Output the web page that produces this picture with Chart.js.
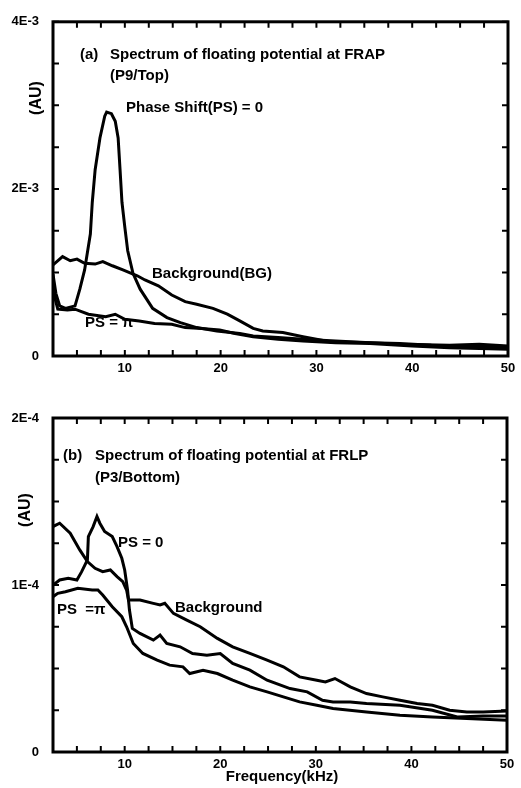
<!DOCTYPE html>
<html>
<head>
<meta charset="utf-8">
<script src="https://cdn.jsdelivr.net/npm/chart.js@4.4.1/dist/chart.umd.min.js"></script>
<style>
  body { margin: 0; background: #fff; }
  #wrap { position: relative; width: 521px; height: 788px; }
  .box { position: absolute; left: 0; width: 521px; }
</style>
</head>
<body>
<div id="wrap">
  <div class="box" style="top:0;height:385px"><canvas id="topChart"></canvas></div>
  <div class="box" style="top:385px;height:403px"><canvas id="bottomChart"></canvas></div>
</div>
<script>
// panel (a): values in units of 1E-3
const topUnit = 1e-3;
const topFreqPS0 = [2.5, 2.8, 3.2, 3.8, 4.8, 5.3, 5.8, 6.4, 6.6, 6.9, 7.4, 7.9, 8.1, 8.6, 9.0, 9.3, 9.5, 9.7, 10.0, 10.3,
  10.85, 11.6, 12.9, 14.4, 15.8, 17.5, 19.6, 22.0, 23.4, 26.0, 28.6, 32.0, 35.6, 38.7, 42.0, 45.0, 48.0, 50.0];
const topPS0 = [0.98, 0.75, 0.60, 0.57, 0.60, 0.80, 1.03, 1.46, 1.84, 2.23, 2.61, 2.87, 2.92, 2.90, 2.81, 2.61, 2.23, 1.84, 1.54, 1.26,
  0.99, 0.80, 0.57, 0.46, 0.40, 0.34, 0.30, 0.27, 0.24, 0.22, 0.20, 0.18, 0.16, 0.15, 0.13, 0.12, 0.11, 0.10];
const topFreqBG = [2.5, 3.5, 4.3, 5.0, 5.8, 6.9, 7.7, 8.7, 9.8, 11.3, 12.1, 13.5, 14.9, 16.3, 17.5, 19.2, 20.7, 22.0, 23.4, 24.4,
  26.5, 28.6, 31.4, 35.6, 38.7, 43.9, 47.0, 50.0];
const topBG = [1.09, 1.19, 1.14, 1.16, 1.11, 1.10, 1.13, 1.08, 1.03, 0.96, 0.91, 0.84, 0.73, 0.65, 0.62, 0.57, 0.50, 0.42, 0.33, 0.30,
  0.28, 0.23, 0.17, 0.16, 0.14, 0.13, 0.14, 0.12];
const topFreqPSpi = [2.5, 3.0, 4.0, 4.8, 6.2, 8.0, 9.0, 10.0, 11.5, 13.1, 14.9, 16.3, 18.0, 19.9, 21.5, 23.4, 26.0, 28.6, 32.0, 35.6,
  40.0, 43.9, 47.0, 50.0];
const topPSpi = [0.78, 0.56, 0.55, 0.56, 0.50, 0.47, 0.50, 0.44, 0.42, 0.39, 0.38, 0.34, 0.33, 0.31, 0.27, 0.23, 0.20, 0.18, 0.16, 0.15,
  0.12, 0.10, 0.09, 0.08];

// panel (b): values in units of 1E-4
const botUnit = 1e-4;
const botFreqBG = [2.5, 3.2, 4.3, 5.3, 6.1, 6.9, 7.7, 8.5, 9.2, 9.8, 10.2, 10.4, 11.6, 13.0, 13.7, 14.2, 15.1, 16.5, 17.9, 19.7,
  21.3, 23.1, 24.9, 26.6, 28.3, 30.1, 31.0, 32.0, 33.6, 35.3, 37.0, 38.8, 40.6, 42.2, 44.0, 45.8, 47.5, 50.0];
const botBG = [1.35, 1.37, 1.31, 1.21, 1.14, 1.10, 1.08, 1.09, 1.05, 1.02, 0.97, 0.91, 0.91, 0.89, 0.88, 0.89, 0.83, 0.79, 0.75, 0.68,
  0.63, 0.59, 0.55, 0.51, 0.45, 0.43, 0.42, 0.44, 0.39, 0.35, 0.33, 0.31, 0.29, 0.28, 0.25, 0.24, 0.24, 0.245];
const botFreqPS0 = [2.5, 3.2, 4.1, 5.0, 5.5, 6.1, 6.2, 6.7, 7.1, 7.4, 7.9, 8.7, 9.2, 9.7, 10.0, 10.3, 10.5, 10.8, 11.6, 13.0,
  13.7, 14.4, 15.8, 17.1, 18.6, 20.0, 21.3, 23.1, 24.9, 27.3, 29.1, 30.7, 31.8, 33.6, 35.3, 38.8, 42.2, 44.8, 47.5, 50.0];
const botPS0 = [1.00, 1.03, 1.04, 1.03, 1.08, 1.15, 1.29, 1.35, 1.41, 1.37, 1.32, 1.29, 1.23, 1.16, 1.09, 0.97, 0.85, 0.74, 0.71, 0.67,
  0.70, 0.65, 0.63, 0.59, 0.58, 0.59, 0.53, 0.49, 0.43, 0.38, 0.36, 0.31, 0.30, 0.30, 0.29, 0.28, 0.25, 0.21, 0.215, 0.215];
const botFreqPSpi = [2.5, 3.0, 3.8, 5.1, 6.6, 7.2, 7.7, 8.7, 9.7, 10.2, 10.9, 11.9, 13.4, 14.7, 16.1, 16.8, 18.2, 19.7, 21.3, 23.1,
  24.9, 26.6, 28.3, 30.1, 31.8, 35.3, 38.8, 42.2, 45.8, 50.0];
const botPSpi = [0.93, 0.95, 0.96, 0.98, 0.97, 0.97, 0.94, 0.87, 0.81, 0.75, 0.65, 0.59, 0.55, 0.52, 0.51, 0.47, 0.49, 0.47, 0.43, 0.39,
  0.36, 0.33, 0.30, 0.28, 0.26, 0.24, 0.22, 0.21, 0.20, 0.19];

// tick labels
const xTickValues = [10, 20, 30, 40, 50];
const xTickLabels = ['10', '20', '30', '40', '50'];
const topYTickValues = [0, 2e-3, 4e-3];
const topYTickLabels = ['0', '2E-3', '4E-3'];
const botYTickValues = [0, 1e-4, 2e-4];
const botYTickLabels = ['0', '1E-4', '2E-4'];

const FONT = '"Liberation Sans", Arial, sans-serif';

function toPoints(freqs, vals, unit) {
  return freqs.map((f, i) => ({ x: f, y: vals[i] * unit }));
}

function pickLabel(values, labels, tol) {
  return v => {
    const i = values.findIndex(t => Math.abs(t - v) < tol);
    return i >= 0 ? labels[i] : '';
  };
}

// frame with inward ticks on all four sides
const framePlugin = {
  id: 'frame',
  afterDatasetsDraw(chart) {
    const { ctx, chartArea: a } = chart;
    const x = chart.scales.x, y = chart.scales.y;
    ctx.save();
    ctx.strokeStyle = '#000';
    ctx.lineWidth = 2;
    ctx.beginPath();
    x.ticks.forEach(t => {
      const px = x.getPixelForValue(t.value);
      ctx.moveTo(px, a.bottom); ctx.lineTo(px, a.bottom - 6);
      ctx.moveTo(px, a.top); ctx.lineTo(px, a.top + 6);
    });
    y.ticks.forEach(t => {
      const py = y.getPixelForValue(t.value);
      ctx.moveTo(a.left, py); ctx.lineTo(a.left + 6, py);
      ctx.moveTo(a.right, py); ctx.lineTo(a.right - 6, py);
    });
    ctx.stroke();
    ctx.lineWidth = 3;
    ctx.strokeRect(a.left, a.top, a.right - a.left, a.bottom - a.top);
    ctx.restore();
  }
};

function notesPlugin(notes) {
  return {
    id: 'notes',
    afterDraw(chart) {
      const ctx = chart.ctx;
      ctx.save();
      ctx.fillStyle = '#000';
      ctx.textBaseline = 'middle';
      notes.forEach(n => {
        ctx.font = 'bold ' + (n.size || 15) + 'px ' + FONT;
        ctx.save();
        ctx.translate(n.x, n.y);
        if (n.rotate) ctx.rotate(n.rotate);
        ctx.textAlign = n.align || 'left';
        ctx.fillText(n.text, 0, 0);
        ctx.restore();
      });
      ctx.restore();
    }
  };
}

function lineSet(data) {
  return {
    data: data,
    borderColor: '#000',
    borderWidth: 3,
    pointRadius: 0,
    tension: 0,
    fill: false
  };
}

function makeChart(id, datasets, yMax, yStep, yVals, yLabels, pad, xHeight, notes) {
  return new Chart(document.getElementById(id), {
    type: 'line',
    data: { datasets: datasets },
    options: {
      responsive: true,
      maintainAspectRatio: false,
      animation: false,
      layout: { padding: pad },
      plugins: { legend: { display: false }, tooltip: { enabled: false } },
      scales: {
        x: {
          type: 'linear',
          min: 2.5,
          max: 50,
          grid: { display: false, drawTicks: false },
          border: { display: false },
          ticks: {
            stepSize: 2.5,
            autoSkip: false,
            maxRotation: 0,
            padding: 5,
            color: '#000',
            font: { family: FONT, size: 13, weight: 'bold' },
            callback: pickLabel(xTickValues, xTickLabels, 1e-6)
          },
          afterFit: s => { s.height = xHeight; }
        },
        y: {
          min: 0,
          max: yMax,
          grid: { display: false, drawTicks: false },
          border: { display: false },
          ticks: {
            stepSize: yStep,
            autoSkip: false,
            padding: 14,
            color: '#000',
            font: { family: FONT, size: 13, weight: 'bold' },
            callback: pickLabel(yVals, yLabels, yStep / 100)
          },
          afterFit: s => { s.width = 53; }
        }
      }
    },
    plugins: [framePlugin, notesPlugin(notes)]
  });
}

makeChart('topChart', [
  lineSet(toPoints(topFreqBG, topBG, topUnit)),
  lineSet(toPoints(topFreqPSpi, topPSpi, topUnit)),
  lineSet(toPoints(topFreqPS0, topPS0, topUnit))
], 4e-3, 0.5e-3, topYTickValues, topYTickLabels,
  { left: 0, right: 13, top: 10, bottom: 0 }, 29, [
  { text: '(a)', x: 80, y: 55 },
  { text: 'Spectrum of floating potential at FRAP', x: 110, y: 55 },
  { text: '(P9/Top)', x: 110, y: 76 },
  { text: 'Phase Shift(PS) = 0', x: 126, y: 108 },
  { text: 'Background(BG)', x: 152, y: 274 },
  { text: 'PS = \u03c0', x: 85, y: 323 },
  { text: '(AU)', x: 37, y: 98, size: 16, align: 'center', rotate: -Math.PI / 2 }
]);

makeChart('bottomChart', [
  lineSet(toPoints(botFreqBG, botBG, botUnit)),
  lineSet(toPoints(botFreqPS0, botPS0, botUnit)),
  lineSet(toPoints(botFreqPSpi, botPSpi, botUnit))
], 2e-4, 0.25e-4, botYTickValues, botYTickLabels,
  { left: 0, right: 14, top: 33, bottom: 0 }, 36, [
  { text: '(b)', x: 63, y: 71 },
  { text: 'Spectrum of floating potential at FRLP', x: 95, y: 71 },
  { text: '(P3/Bottom)', x: 95, y: 93 },
  { text: 'PS = 0', x: 118, y: 158 },
  { text: 'Background', x: 175, y: 223 },
  { text: 'PS  =\u03c0', x: 57, y: 225 },
  { text: '(AU)', x: 26, y: 125, size: 16, align: 'center', rotate: -Math.PI / 2 },
  { text: 'Frequency(kHz)', x: 282, y: 392, size: 15, align: 'center' }
]);
</script>
</body>
</html>
